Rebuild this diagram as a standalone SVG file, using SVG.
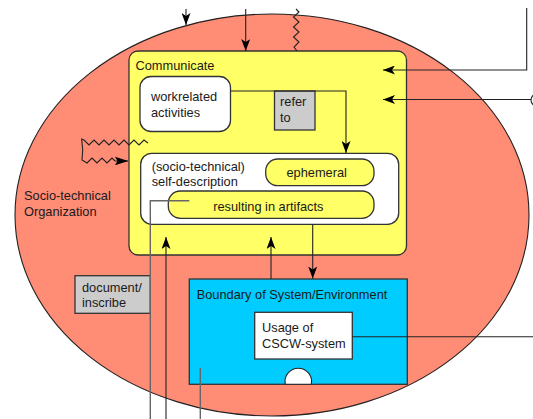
<svg xmlns="http://www.w3.org/2000/svg" width="533" height="419" viewBox="0 0 533 419">
<defs>
<style>
text{font-family:"Liberation Sans",Arial,sans-serif;font-size:12.8px;fill:#1a1a1a}
.box{stroke:#333;stroke-width:1.3}
.ln{fill:none;stroke:#222;stroke-width:1.1}
.gl{fill:none;stroke:#666;stroke-width:1.4}
.mid{text-anchor:middle}
</style>
<marker id="ah" viewBox="0 0 12 9" refX="12" refY="4.5" markerWidth="12" markerHeight="9" markerUnits="userSpaceOnUse" orient="auto">
<path d="M0,0 L12,4.5 L0,9 L3,4.5 Z" fill="#000"/>
</marker>
</defs>
<rect width="533" height="419" fill="#fff"/>
<g id="organization">
<ellipse cx="272" cy="215" rx="257" ry="201" fill="#FF8C75" stroke="#222" stroke-width="1.1"/>
<text x="24" y="200">Socio-technical</text>
<text x="24" y="216">Organization</text>
</g>
<g id="communicate">
<rect class="box" x="129" y="51" width="277.5" height="204" rx="9" fill="#FFFF66"/>
<text x="135.5" y="69.5">Communicate</text>
</g>
<g id="workrelated">
<rect class="box" x="140" y="76.5" width="90.5" height="55" rx="11" fill="#fff"/>
<text x="151" y="101">workrelated</text>
<text x="151" y="116.5">activities</text>
</g>
<g id="refer-to">
<rect class="box" x="274.5" y="91" width="40.5" height="39" fill="#CCCCCC"/>
<text x="280" y="106">refer</text>
<text x="280" y="121.7">to</text>
</g>
<g id="self-description">
<rect class="box" x="140.7" y="153.3" width="258" height="71" rx="11" fill="#fff"/>
<text x="151.7" y="170.5">(socio-technical)</text>
<text x="151.7" y="186">self-description</text>
</g>
<g id="ephemeral">
<rect class="box" x="265.7" y="159" width="108.3" height="26.7" rx="12" fill="#FFFF66"/>
<text class="mid" x="316.7" y="177.3">ephemeral</text>
</g>
<g id="resulting">
<rect class="box" x="168.3" y="191" width="205.7" height="27.3" rx="12" fill="#FFFF66"/>
<text class="mid" x="268.3" y="210.7">resulting in artifacts</text>
</g>
<g id="document">
<rect class="box" x="75" y="275.7" width="75.3" height="37.6" fill="#CCCCCC"/>
<text x="82" y="291.7">document/</text>
<text x="82" y="307">inscribe</text>
</g>
<g id="boundary">
<rect class="box" x="189.3" y="279" width="218" height="105.3" fill="#00CCFF"/>
<text x="196.7" y="298.7">Boundary of System/Environment</text>
<path d="M285.3,384.3 A13.3,13.3 0 1 1 311.3,384.3 Z" fill="#fff" stroke="#222" stroke-width="1.1"/>
</g>
<g id="usage">
<rect class="box" x="254.7" y="312.3" width="97.6" height="46.7" fill="#fff"/>
<text x="262" y="331.7">Usage of</text>
<text x="262" y="347.7">CSCW-system</text>
</g>
<g id="edge-port">
<circle cx="537" cy="100" r="6" fill="#fff" stroke="#222" stroke-width="1.1"/>
</g>
<g id="connectors">
<path class="ln" d="M230.5,91 H346 V153" marker-end="url(#ah)"/>
<path class="ln" d="M186,9 V25" marker-end="url(#ah)"/>
<path class="ln" d="M245.7,9 V51" marker-end="url(#ah)"/>
<polyline class="ln" points="296,9 299,12 293.5,17 299,22 293.5,27 299,32 293.5,37 299,42 294,47 297,51"/>
<path class="ln" d="M526.7,8 V70 H383" marker-end="url(#ah)"/>
<path class="ln" d="M531,99.5 H383" marker-end="url(#ah)"/>
<polyline class="ln" points="148,143 144,140 139,145 134,140 129,145 124,140 119,145 114,140 109,145 104,140 99,145 94,140 89,145 84,140 81.7,139 82.7,150 82,160 87,163 92,158 97,163 102,158 107,163 112,158 115,161 128,161"/>
<path d="M115,156.7 L128.3,161 L115,165.3 L117.5,161 Z" fill="#000"/>
<path class="ln" d="M166,419 V237" marker-end="url(#ah)"/>
<path class="ln" d="M271,279 V237" marker-end="url(#ah)"/>
<path class="ln" d="M312.7,224.5 V278.5" marker-end="url(#ah)"/>
<path class="gl" d="M189.3,200.7 H150.3 V419"/>
<path class="gl" d="M200.3,367.7 V419"/>
<path class="ln" d="M352.3,336.7 H533"/>
</g>
</svg>
